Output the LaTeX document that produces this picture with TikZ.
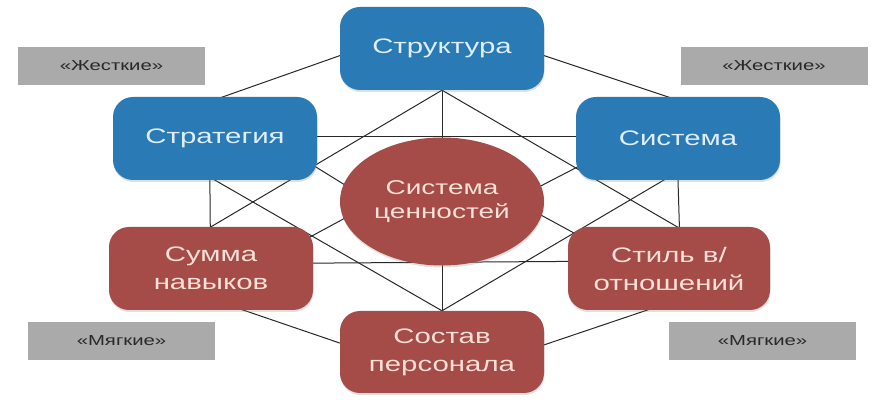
\documentclass[tikz,border=0pt]{standalone}
\usepackage{fontspec}
\setmainfont{Liberation Sans}[FakeStretch=1.4]
\usetikzlibrary{shapes.geometric,shadows,backgrounds}
\definecolor{boxblue}{RGB}{42,122,182}
\definecolor{boxred}{RGB}{166,76,72}
\definecolor{textblue}{RGB}{222,238,252}
\definecolor{textred}{RGB}{248,224,216}
\definecolor{taggray}{RGB}{170,170,170}
\definecolor{tagtext}{RGB}{40,40,40}
\definecolor{linegray}{RGB}{40,40,40}
\tikzset{
  box/.style={rounded corners=20pt, minimum width=204pt, minimum height=83pt,
    inner sep=0pt, align=center, font=\fontsize{21}{28}\selectfont,
    drop shadow={shadow xshift=0.5pt, shadow yshift=-2pt, opacity=0.25}},
  bluebox/.style={box, fill=boxblue, text=textblue},
  redbox/.style={box, fill=boxred, text=textred},
  coreshape/.style={ellipse, fill=boxred, text=textred, minimum width=204pt,
    minimum height=128pt, inner sep=0pt, align=center,
    font=\fontsize{20}{24}\selectfont,
    drop shadow={shadow xshift=0.5pt, shadow yshift=-2pt, opacity=0.25}},
  tag/.style={fill=taggray, minimum width=187pt, minimum height=38pt,
    inner sep=0pt, text=tagtext, font=\fontsize{14.5}{17}\selectfont},
  link/.style={draw=linegray, line width=1pt, shorten <=-10pt, shorten >=-10pt}
}
\begin{document}
\begin{tikzpicture}[x=1pt,y=-1pt]
\useasboundingbox (0,0) rectangle (887,403);
% nodes
\node[bluebox] (struct) at (442,48.5) {Структура};
\node[bluebox] (strat) at (215,138.5) {Стратегия};
\node[bluebox] (sys) at (678,138.5) {Система};
\node[redbox] (skills) at (211,268.5) {Сумма\\навыков};
\node[redbox, minimum width=202pt] (style) at (669,268.5) {Стиль в/\\отношений};
\node[redbox, minimum height=82pt] (staff) at (442,352) {Состав\\персонала};
\node[coreshape] (values) at (442,201.5) {Система\\ценностей};
\node[tag] (hardL) at (111.5,66) {«Жесткие»};
\node[tag] (hardR) at (774,66) {«Жесткие»};
\node[tag] (softL) at (121.5,341) {«Мягкие»};
\node[tag] (softR) at (762.5,341) {«Мягкие»};
% connectors
\begin{scope}[on background layer]
\draw[link] (struct.184.8) -- (strat.79.1);
\draw[link] (struct.-4.8) -- (sys.104.8);
\draw[link] (strat.263) -- (skills.91.4);
\draw[link] (sys.270) -- (style.76.5);
\draw[link] (skills.-52) -- (staff.175);
\draw[link] (style.242.6) -- (staff.4.5);
\draw[link] (strat.1) -- (sys.179);
\draw[link] (skills.3.1) -- (style.176.9);
\draw[link] (struct.south) -- (values.north);
\draw[link] (values.south) -- (staff.north);
\draw[link] (struct.south) -- (skills.north);
\draw[link] (struct.south) -- (style.79);
\draw[link] (strat.south) -- (staff.north);
\draw[link] (sys.251.4) -- (staff.north);
\draw[link] (strat.-16) -- (values.170);
\draw[link] (sys.196) -- (values.9);
\draw[link] (skills.18) -- (values.190);
\draw[link] (style.159.3) -- (values.-8);
\end{scope}
\end{tikzpicture}
\end{document}
